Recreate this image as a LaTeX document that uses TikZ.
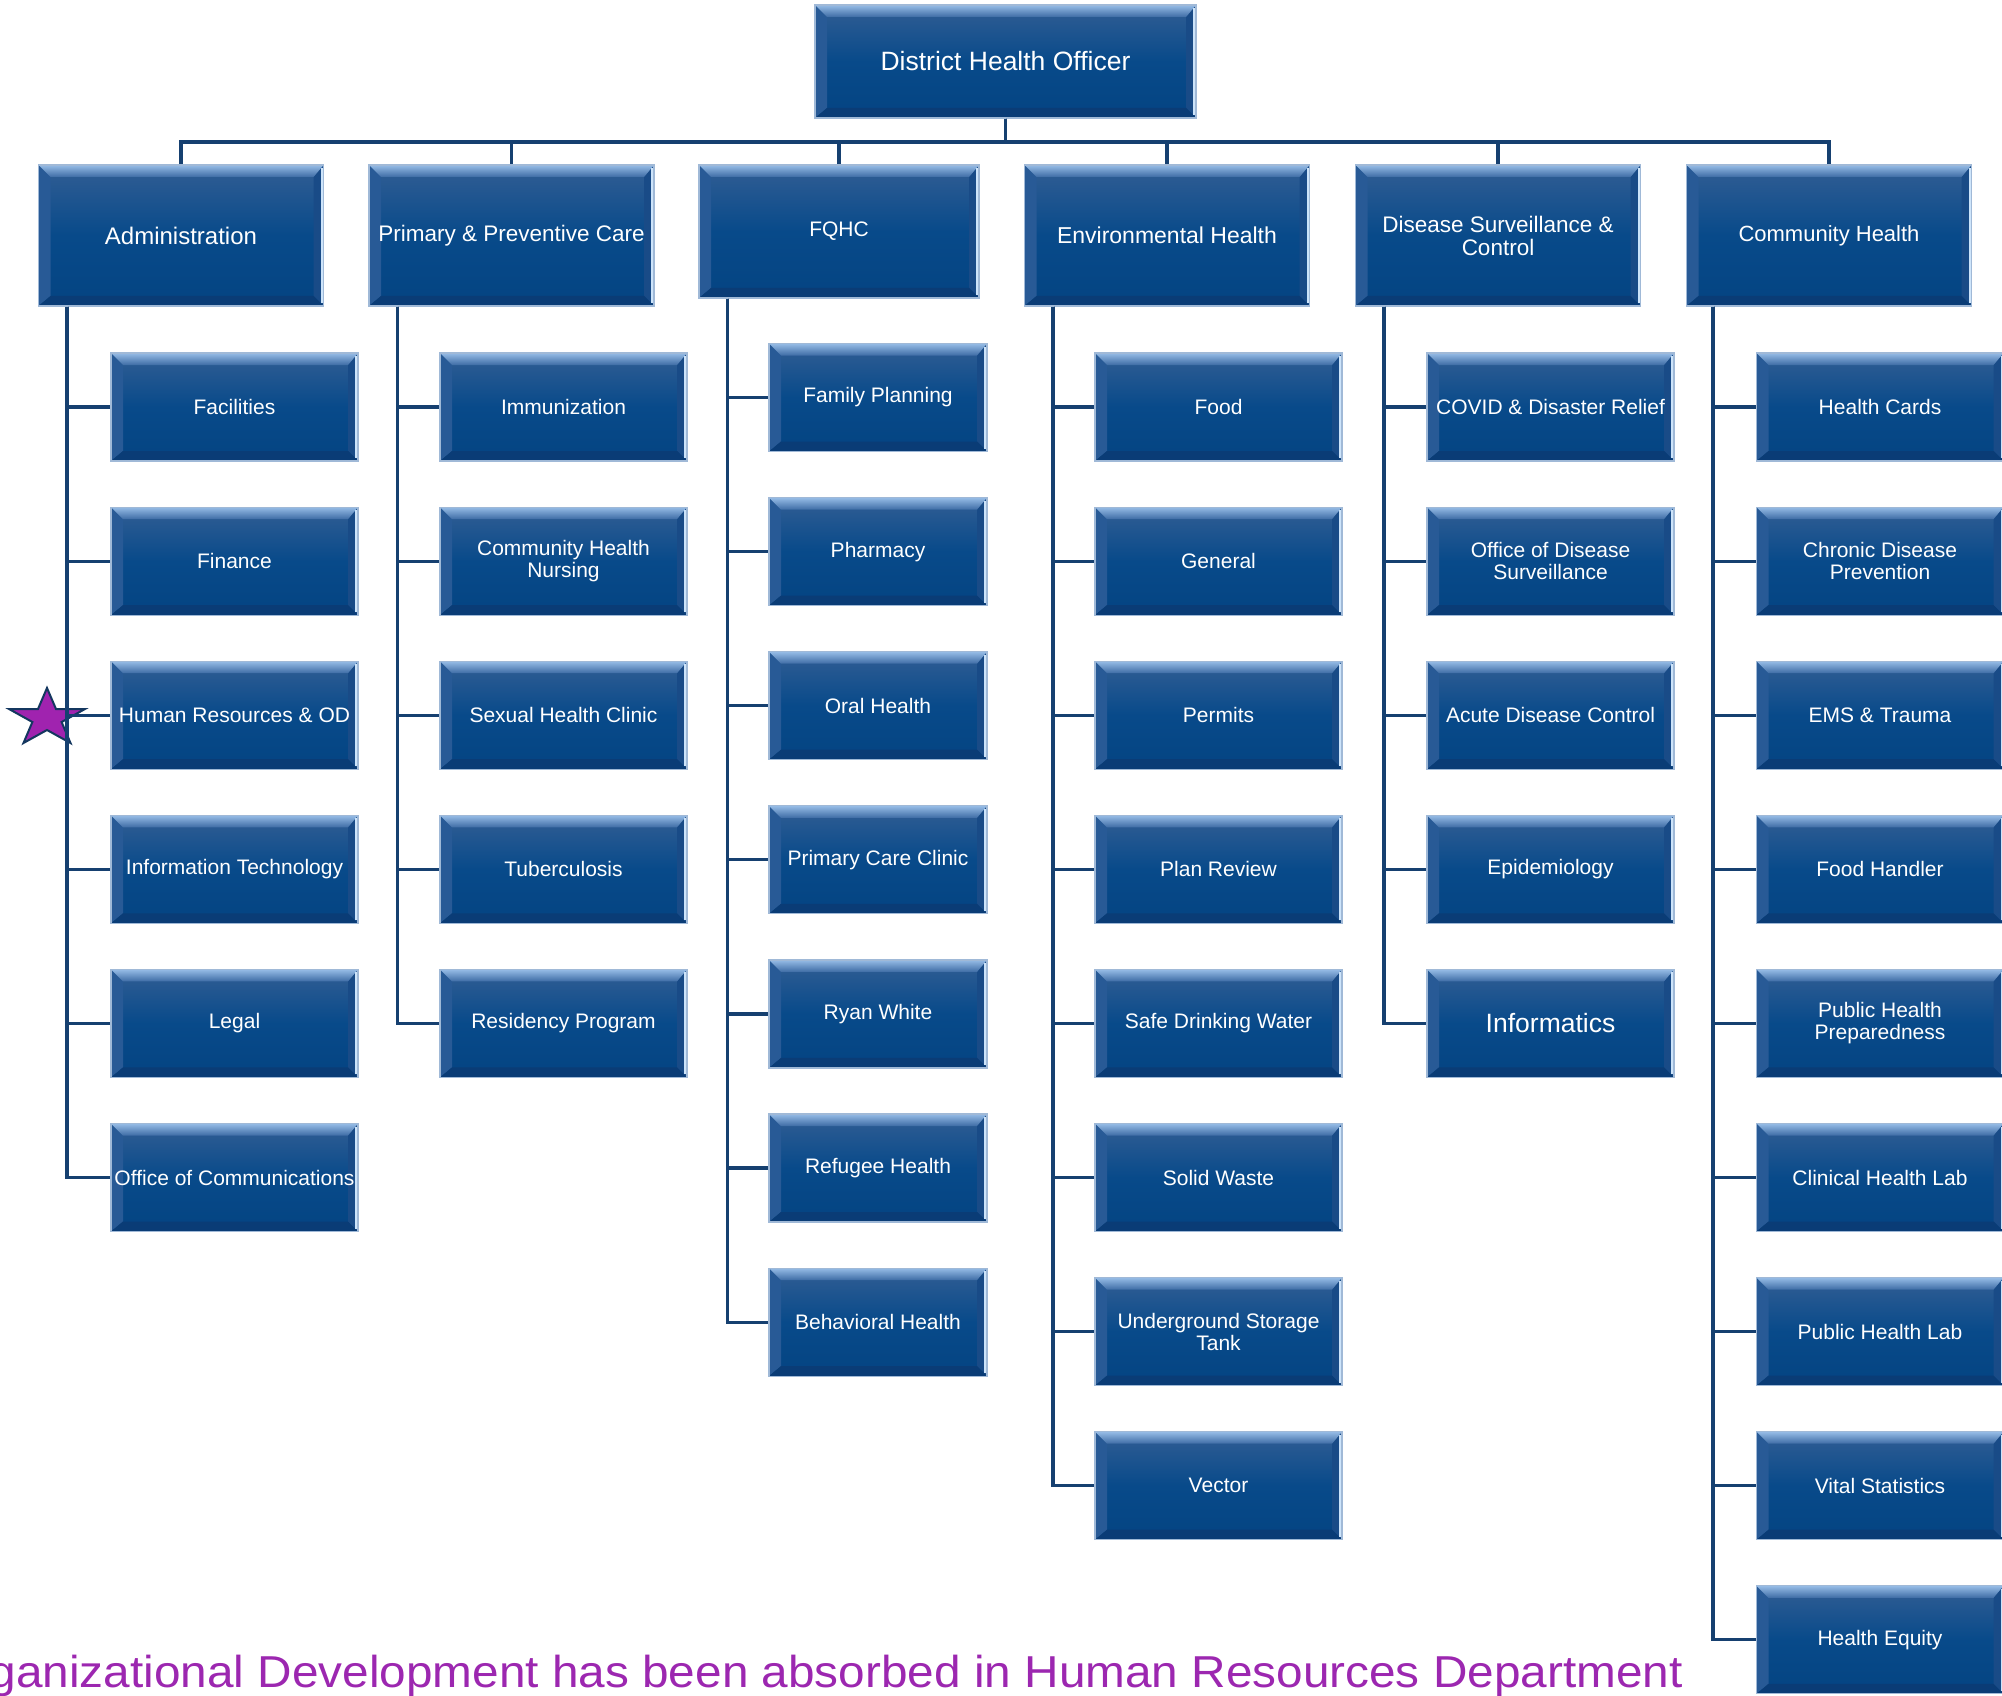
\documentclass[tikz,border=0pt]{standalone}
\usepackage{fontspec}
\setmainfont{Liberation Sans}
\usetikzlibrary{calc}

\definecolor{connc}{RGB}{22,64,112}
\definecolor{boxtop}{RGB}{50,94,148}
\definecolor{boxmid}{RGB}{8,74,138}
\definecolor{boxbot}{RGB}{4,68,130}
\definecolor{boxedge}{RGB}{160,185,215}
\definecolor{bevA}{RGB}{150,188,230}
\definecolor{bevB}{RGB}{62,108,165}
\definecolor{bevL}{RGB}{40,90,150}
\definecolor{bevR}{RGB}{25,75,135}
\definecolor{bevBot}{RGB}{10,60,118}
\definecolor{rim}{RGB}{205,228,250}
\definecolor{notepurple}{RGB}{156,39,176}
\definecolor{starfill}{RGB}{160,35,175}
\definecolor{staredge}{RGB}{20,55,95}

\begin{document}
\begin{tikzpicture}[x=1pt,y=-1pt,
  orgbox/.style={rectangle, draw=boxedge, line width=1.2pt,
    top color=boxtop, bottom color=boxbot, middle color=boxmid,
    text=white, align=center, inner sep=0pt,
    path picture={
      \path (path picture bounding box.north west) coordinate (pNW)
            (path picture bounding box.north east) coordinate (pNE)
            (path picture bounding box.south west) coordinate (pSW)
            (path picture bounding box.south east) coordinate (pSE);
      \fill[bevL] (pNW) -- ([shift={(12pt,-12pt)}]pNW) -- ([shift={(12pt,10pt)}]pSW) -- (pSW) -- cycle;
      \fill[bevR] (pNE) -- (pSE) -- ([shift={(-10pt,10pt)}]pSE) -- ([shift={(-10pt,-12pt)}]pNE) -- cycle;
      \fill[bevBot] (pSW) -- (pSE) -- ([shift={(-10pt,10pt)}]pSE) -- ([shift={(12pt,10pt)}]pSW) -- cycle;
      \shade[top color=bevA, bottom color=bevB] (pNW) -- (pNE) -- ([shift={(-10pt,-12pt)}]pNE) -- ([shift={(12pt,-12pt)}]pNW) -- cycle;
      \draw[rim, line width=2.5pt] ([shift={(-1.6pt,-3pt)}]pNE) -- ([shift={(-1.6pt,3pt)}]pSE);
    }},
  lvl/.style={orgbox, minimum width=285pt, minimum height=141pt, font=\fontsize{23}{23}\selectfont},
  kid/.style={orgbox, minimum width=247pt, minimum height=108pt, font=\fontsize{21}{22}\selectfont},
  fkid/.style={kid, minimum width=218pt},
  connline/.style={draw=connc, line width=3.2pt},
  starshape/.style={fill=starfill, draw=staredge, line width=2pt, line join=miter}
]
\useasboundingbox (0,0) rectangle (2002,1696);

% top
\node[orgbox, minimum width=381pt, minimum height=113pt, font=\fontsize{26.5}{28}\selectfont] (dho) at (1005.5,61.5) {District Health Officer};

% level 1
\node[lvl, font=\fontsize{24}{24}\selectfont] (adm) at (181,235.5) {Administration};
\node[lvl, font=\fontsize{22.5}{23}\selectfont] (ppc) at (511.5,235.5) {Primary \& Preventive Care};
\node[lvl, minimum width=280pt, minimum height=133pt, font=\fontsize{21}{22}\selectfont] (fqhc) at (839,231.5) {FQHC};
\node[lvl] (env) at (1167,235.5) {Environmental Health};
\node[lvl, font=\fontsize{22.5}{23}\selectfont] (dsc) at (1498,235.5) {Disease Surveillance \&\\Control};
\node[lvl, font=\fontsize{22}{23}\selectfont] (ch) at (1829,235.5) {Community Health};

% Administration
\node[kid] (a1) at (234.5,407) {Facilities};
\node[kid] (a2) at (234.5,561.1) {Finance};
\node[kid] (a3) at (234.5,715.2) {Human Resources \& OD};
\node[kid] (a4) at (234.5,869.3) {Information Technology};
\node[kid] (a5) at (234.5,1023.4) {Legal};
\node[kid] (a6) at (234.5,1177.5) {Office of Communications};

% Primary & Preventive Care
\node[kid] (p1) at (563.5,407) {Immunization};
\node[kid] (p2) at (563.5,561.1) {Community Health\\Nursing};
\node[kid] (p3) at (563.5,715.2) {Sexual Health Clinic};
\node[kid] (p4) at (563.5,869.3) {Tuberculosis};
\node[kid] (p5) at (563.5,1023.4) {Residency Program};

% FQHC
\node[fkid] (f1) at (878,397.5) {Family Planning};
\node[fkid] (f2) at (878,551.6) {Pharmacy};
\node[fkid] (f3) at (878,705.7) {Oral Health};
\node[fkid] (f4) at (878,859.8) {Primary Care Clinic};
\node[fkid] (f5) at (878,1013.9) {Ryan White};
\node[fkid] (f6) at (878,1168) {Refugee Health};
\node[fkid] (f7) at (878,1322.1) {Behavioral Health};

% Environmental Health
\node[kid] (e1) at (1218.5,407) {Food};
\node[kid] (e2) at (1218.5,561.1) {General};
\node[kid] (e3) at (1218.5,715.2) {Permits};
\node[kid] (e4) at (1218.5,869.3) {Plan Review};
\node[kid] (e5) at (1218.5,1023.4) {Safe Drinking Water};
\node[kid] (e6) at (1218.5,1177.5) {Solid Waste};
\node[kid] (e7) at (1218.5,1331.6) {Underground Storage\\Tank};
\node[kid] (e8) at (1218.5,1485.7) {Vector};

% Disease Surveillance & Control
\node[kid] (d1) at (1550.5,407) {COVID \& Disaster Relief};
\node[kid] (d2) at (1550.5,561.1) {Office of Disease\\Surveillance};
\node[kid] (d3) at (1550.5,715.2) {Acute Disease Control};
\node[kid] (d4) at (1550.5,869.3) {Epidemiology};
\node[kid, font=\fontsize{26.5}{28}\selectfont] (d5) at (1550.5,1023.4) {Informatics};

% Community Health
\node[kid] (c1) at (1880,407) {Health Cards};
\node[kid] (c2) at (1880,561.1) {Chronic Disease\\Prevention};
\node[kid] (c3) at (1880,715.2) {EMS \& Trauma};
\node[kid] (c4) at (1880,869.3) {Food Handler};
\node[kid] (c5) at (1880,1023.4) {Public Health\\Preparedness};
\node[kid] (c6) at (1880,1177.5) {Clinical Health Lab};
\node[kid] (c7) at (1880,1331.6) {Public Health Lab};
\node[kid] (c8) at (1880,1485.7) {Vital Statistics};
\node[kid] (c9) at (1880,1639.8) {Health Equity};

% star
\draw[starshape] (47,688) -- (56,709) -- (85,709) -- (61.6,722) -- (70.5,743) -- (47,730)
  -- (23.5,743) -- (32.4,722) -- (9,709) -- (38,709) -- cycle;

% connectors
\coordinate (busy) at (0,142);
\foreach \n in {adm,ppc,fqhc,env,dsc,ch}
  \draw[connline] (dho.south) -- (dho.south |- busy) -| (\n.north);

\foreach \k in {a1,a2,a3,a4,a5,a6}
  \draw[connline] ([xshift=29pt]adm.south west) |- (\k.west);
\foreach \k in {p1,p2,p3,p4,p5}
  \draw[connline] ([xshift=29pt]ppc.south west) |- (\k.west);
\foreach \k in {f1,f2,f3,f4,f5,f6,f7}
  \draw[connline] ([xshift=29pt]fqhc.south west) |- (\k.west);
\foreach \k in {e1,e2,e3,e4,e5,e6,e7,e8}
  \draw[connline] ([xshift=29pt]env.south west) |- (\k.west);
\foreach \k in {d1,d2,d3,d4,d5}
  \draw[connline] ([xshift=29pt]dsc.south west) |- (\k.west);
\foreach \k in {c1,c2,c3,c4,c5,c6,c7,c8,c9}
  \draw[connline] ([xshift=27pt]ch.south west) |- (\k.west);

% note
\begin{scope}
\clip (0,0) rectangle (2002,1696);
\node[anchor=base east, text=notepurple, inner sep=0pt, font=\fontsize{44.7}{48}\selectfont] (note) at (1683,1687) {\scalebox{1.068}[1]{Organizational Development has been absorbed in Human Resources Department}};
\end{scope}
\end{tikzpicture}
\end{document}
